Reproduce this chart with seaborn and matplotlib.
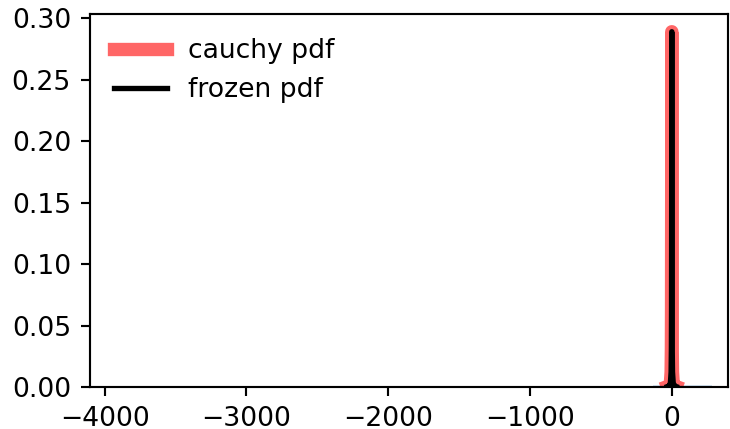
import matplotlib
matplotlib.use("Agg")
import matplotlib.pyplot as plt
from matplotlib.ticker import MultipleLocator
import seaborn as sns

pdf_x = [-31.8, -20.0, -10.0, -5.0, -3.0, -2.0, -1.0, -0.32,
         0.32, 1.0, 2.0, 3.0, 5.0, 10.0, 20.0, 31.8]
pdf_y = [0.0003, 0.0008, 0.0032, 0.0122, 0.0318, 0.0637, 0.159, 0.289,
         0.289, 0.159, 0.0637, 0.0318, 0.0122, 0.0032, 0.0008, 0.0003]

# faint sample histogram (density), mostly hidden under the spike
hist_edges = [-3900, -3880, -130, -60, 60, 140, 280]
hist_heights = [0.00005, 0.0, 0.0012, 0.0015, 0.0014, 0.0012]
hist_centers = [(a + b) / 2 for a, b in zip(hist_edges[:-1], hist_edges[1:])]

DPI = 192
fig, ax = plt.subplots(figsize=(730 / DPI, 429 / DPI), dpi=DPI)
fig.subplots_adjust(left=0.123, right=0.997, top=0.967, bottom=0.098)

sns.lineplot(x=pdf_x, y=pdf_y, ax=ax, color="r", lw=5, alpha=0.6,
             label="cauchy pdf")
sns.lineplot(x=pdf_x, y=pdf_y, ax=ax, color="k", lw=2, label="frozen pdf")
sns.histplot(x=hist_centers, weights=hist_heights, bins=hist_edges, ax=ax,
             element="step", fill=True, alpha=0.2, linewidth=0,
             color="#1f77b4")

ax.set_xlim(-4105, 395)
ax.set_ylim(0, 0.3033)
ax.yaxis.set_major_locator(MultipleLocator(0.05))
ax.set_ylabel("")
ax.legend(loc="best", frameon=False)

fig.savefig("out.png", dpi=DPI)
